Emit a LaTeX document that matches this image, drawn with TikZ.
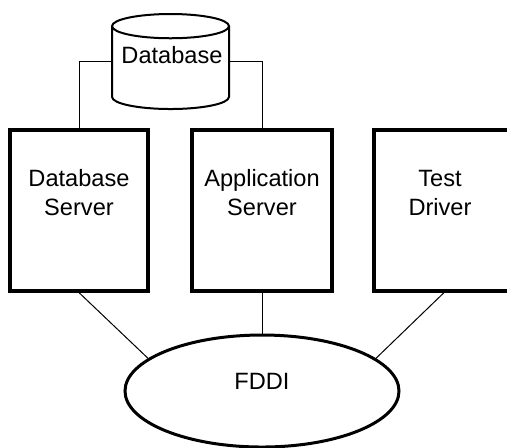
\documentclass[tikz,border=0pt]{standalone}
\usepackage{fontspec}
\setmainfont{Liberation Sans}
\usetikzlibrary{positioning, shapes.geometric}

\begin{document}
\begin{tikzpicture}[
        x=0.5pt, y=-0.5pt,
        % Styles
        store/.style={cylinder, shape border rotate=90, aspect=0.24, draw, line width=1pt, minimum width=58.5pt, minimum height=47.5pt, inner sep=0pt, font=\fontsize{11.8}{14.5}\selectfont},
        server/.style={draw, line width=1.6pt, minimum width=69pt, minimum height=80.5pt},
        servertext/.style={anchor=north, inner sep=0pt, align=center, font=\fontsize{11.8}{14.5}\selectfont},
        ring/.style={ellipse, draw, line width=1.5pt, minimum width=137pt, minimum height=56pt, inner sep=0pt},
        link/.style={line width=0.5pt},
    ]
        \useasboundingbox (0,0) rectangle (507,447);

        % === Database store ===
        \node[store, anchor=north] (db) at (170.5,13) {\phantom{Database}};
        \node[servertext, anchor=center] (dbtext) at (172,55) {Database};

        % === Servers ===
        \node[server] (dbserver) at (79,210.5) {};
        \node[server, minimum width=70pt] (appserver) at (262,210.5) {};
        \node[server, minimum width=70pt] (driver) at (444,210.5) {};

        \node[servertext] (dbservertext) at ([yshift=-20.5pt]dbserver.north) {Database\\Server};
        \node[servertext] (appservertext) at ([yshift=-20.5pt]appserver.north) {Application\\Server};
        \node[servertext] (drivertext) at ([xshift=-2pt, yshift=-20.5pt]driver.north) {Test\\Driver};

        % === FDDI ring ===
        \node[ring] (fddi) at (262,391) {};
        \node[servertext, anchor=center] (fdditext) at (262,381) {FDDI};

        % === Connectors ===
        \draw[link] ([yshift=3.25pt]db.west) -| (dbserver.north);
        \draw[link] ([yshift=3.25pt]db.east) -| (appserver.north);
        \draw[link] (dbserver.south) -- (fddi.164);
        \draw[link] (appserver.south) -- (fddi.north);
        \draw[link] (driver.south) -- (fddi.16);
    \end{tikzpicture}
\end{document}
